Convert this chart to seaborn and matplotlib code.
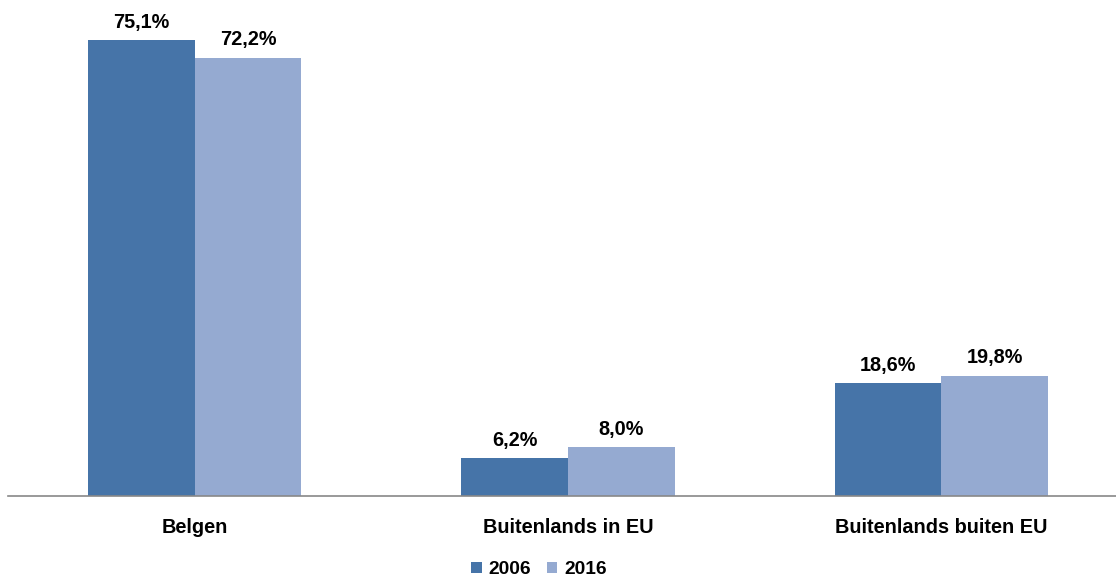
import matplotlib
matplotlib.use("Agg")
import matplotlib.pyplot as plt
import seaborn as sns
import pandas as pd
from matplotlib.patches import Patch

categories = ["Belgen", "Buitenlands in EU", "Buitenlands buiten EU"]
years = ["2006", "2016"]
values_2006 = [75.1, 6.2, 18.6]
values_2016 = [72.2, 8.0, 19.8]
colors = ["#4674A8", "#95AAD1"]

df = pd.DataFrame({
    "cat": categories * 2,
    "year": [years[0]] * 3 + [years[1]] * 3,
    "val": values_2006 + values_2016,
})

sns.set_theme(style="white")
plt.rcParams["font.family"] = ["Liberation Sans", "DejaVu Sans"]

FS = 14.3

fig = plt.figure(figsize=(11.16, 5.8), dpi=100)
ax = fig.add_axes([8 / 1116, 84 / 580, 1120 / 1116, 496 / 580])
sns.barplot(data=df, x="cat", y="val", hue="year", palette=colors,
            width=0.572, ax=ax, legend=False, saturation=1, edgecolor="none")
ax.set_ylim(0, 81.7)
ax.set_xlim(-0.5, 2.5)
for s in ["top", "right", "left"]:
    ax.spines[s].set_visible(False)
ax.spines["bottom"].set_color("#888888")
ax.spines["bottom"].set_linewidth(1.2)
ax.set_yticks([])
ax.set_xlabel("")
ax.set_ylabel("")
ax.tick_params(axis="x", length=0, pad=16)
for lbl in ax.get_xticklabels():
    lbl.set_fontweight("bold")
    lbl.set_fontsize(FS)
    lbl.set_color("black")

for cont in ax.containers:
    labels = [f"{v:.1f}%".replace(".", ",") for v in cont.datavalues]
    ax.bar_label(cont, labels=labels, padding=6, fontsize=FS, fontweight="bold", color="black")

handles = [Patch(facecolor=c, edgecolor="none") for c in colors]
leg = fig.legend(handles, years, loc="center", bbox_to_anchor=(539 / 1116, 1 - 570 / 580),
                 ncol=2, frameon=False, prop={"weight": "bold", "size": 13.8},
                 handlelength=0.55, handleheight=0.55, handletextpad=0.35, columnspacing=0.8,
                 borderpad=0.1)
for t in leg.get_texts():
    t.set_color("black")

fig.savefig("out.png", dpi=100)
